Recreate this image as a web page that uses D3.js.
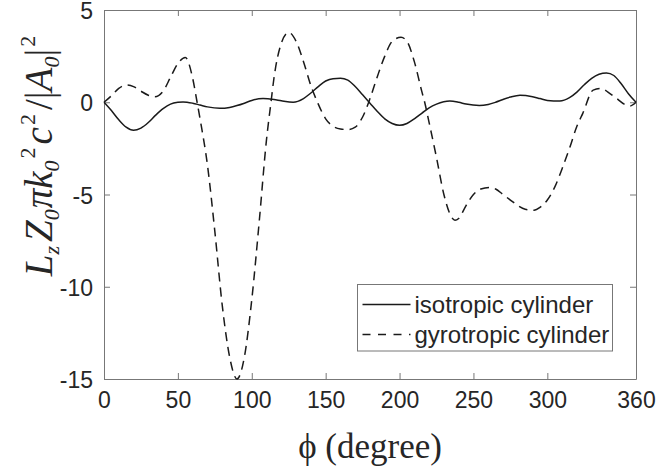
<!DOCTYPE html>
<html>
<head>
<meta charset="utf-8">
<script src="https://cdn.jsdelivr.net/npm/d3@7"></script>
<style>
  html, body { margin: 0; padding: 0; background: #fff; }
  svg { display: block; }
</style>
</head>
<body>
<div id="chart"></div>
<script>
// Angle (degree) and value pairs
const isoAngles = [0, 5, 10, 15, 20, 25, 30, 35, 40, 45, 50, 53.5, 60, 65, 70, 78.5, 85, 90, 95, 100, 107.6,
    115, 120, 128, 135, 140, 145, 150, 155, 160, 165, 170, 175, 180, 185, 190, 195, 200, 205, 210, 215, 220,
    225, 234, 240, 245, 254, 260, 265, 270, 275, 281.5, 290, 295, 300, 308.5, 315, 320, 325, 330, 335, 340,
    345, 350, 355, 360];
const isoValues = [0, -0.45, -0.95, -1.35, -1.52, -1.4, -1.1, -0.7, -0.35, -0.1, 0.0, 0.02, -0.05, -0.15, -0.25, -0.33, -0.28, -0.18, -0.05, 0.1, 0.2,
    0.15, 0.08, 0.0, 0.2, 0.5, 0.85, 1.15, 1.28, 1.3, 1.2, 0.85, 0.4, -0.05, -0.5, -0.9, -1.15, -1.25, -1.15, -0.9, -0.6, -0.3,
    -0.1, 0.07, 0.0, -0.1, -0.18, -0.12, 0.0, 0.15, 0.28, 0.38, 0.3, 0.2, 0.1, 0.07, 0.25, 0.55, 0.95, 1.3, 1.52, 1.59,
    1.45, 1.0, 0.45, 0];

const gyroAngles = [0, 5, 10, 15, 20, 25, 30, 34.5, 40, 45, 50, 55, 60, 63, 65, 70, 75, 80, 85, 90, 95, 100, 105,
    110, 113, 115, 120, 125, 130, 135, 140, 145, 150, 155, 160, 165, 170, 175, 180, 185, 190, 195, 201, 205, 210,
    215, 217, 220, 225, 230, 235, 237.5, 240, 245, 250, 255, 261, 265, 270, 275, 280, 285, 291, 295, 300, 305,
    310, 315, 320, 324, 331, 336.7, 341, 347, 352, 356, 360];
const gyroValues = [0, 0.35, 0.75, 0.94, 0.85, 0.6, 0.38, 0.3, 0.6, 1.35, 2.1, 2.43, 1.3, 0, -0.9, -3.4, -7.0, -11.0, -13.8, -15.0, -13.8, -10.7, -6.5,
    -2.0, 0, 1.3, 3.2, 3.78, 3.3, 2.2, 0.9, -0.1, -0.9, -1.3, -1.45, -1.48, -1.35, -0.8, 0.2, 1.4, 2.5, 3.3, 3.52, 3.3, 2.2,
    0.6, 0, -1.1, -3.0, -5.0, -6.2, -6.4, -6.3, -5.6, -5.0, -4.7, -4.62, -4.7, -5.0, -5.3, -5.6, -5.8, -5.85, -5.7, -5.3, -4.6,
    -3.6, -2.5, -1.3, -0.6, 0.66, 0.75, 0.55, 0.2, -0.1, -0.2, 0];

const xTicks = [0, 50, 100, 150, 200, 250, 300, 360];
const yTicks = [-15, -10, -5, 0, 5];
const seriesNames = ['isotropic cylinder', 'gyrotropic cylinder'];

const W = 659, H = 476;
const margin = { top: 10, right: 23, bottom: 97, left: 104 };
const width = W - margin.left - margin.right;
const height = H - margin.top - margin.bottom;

const svg = d3.select('#chart').append('svg')
    .attr('width', W)
    .attr('height', H);

const g = svg.append('g')
    .attr('transform', `translate(${margin.left},${margin.top})`);

// Scales
const x = d3.scaleLinear().domain([0, 360]).range([0, width]);
const y = d3.scaleLinear().domain([-15, 5]).range([height, 0]);

const tickFont = '"Liberation Sans", Arial, sans-serif';
const axisColor = '#777';
const textColor = '#262626';
const fmt = d => String(d); // plain hyphen minus, as in the reference

// Axes: ticks point inward, box on all four sides
const xAxis = d3.axisBottom(x).tickValues(xTicks).tickFormat(fmt).tickSizeInner(-6).tickSizeOuter(0).tickPadding(13);
const yAxis = d3.axisLeft(y).tickValues(yTicks).tickFormat(fmt).tickSizeInner(-6).tickSizeOuter(0).tickPadding(11);
const xTop = d3.axisTop(x).tickValues(xTicks).tickSizeInner(-6).tickSizeOuter(0).tickFormat('');
const yRight = d3.axisRight(y).tickValues(yTicks).tickSizeInner(-6).tickSizeOuter(0).tickFormat('');

const gx = g.append('g').attr('transform', `translate(0,${height})`).call(xAxis);
const gy = g.append('g').call(yAxis);
const gt = g.append('g').call(xTop);
const gr = g.append('g').attr('transform', `translate(${width},0)`).call(yRight);

[gx, gy, gt, gr].forEach(a => {
    a.selectAll('.domain').attr('stroke', axisColor).attr('stroke-width', 1);
    a.selectAll('.tick line').attr('stroke', axisColor).attr('stroke-width', 1);
    a.selectAll('.tick text')
        .attr('fill', textColor)
        .style('font-family', tickFont)
        .style('font-size', '23px');
});
gy.selectAll('.tick text').attr('dy', '0.37em');

// Lines
const line = d3.line()
    .x(d => x(d[0]))
    .y(d => y(d[1]))
    .curve(d3.curveMonotoneX);

const isoData = isoAngles.map((a, i) => [a, isoValues[i]]);
const gyroData = gyroAngles.map((a, i) => [a, gyroValues[i]]);

g.append('path')
    .datum(isoData)
    .attr('d', line)
    .attr('fill', 'none')
    .attr('stroke', '#1a1a1a')
    .attr('stroke-width', 1.5);

g.append('path')
    .datum(gyroData)
    .attr('d', line)
    .attr('fill', 'none')
    .attr('stroke', '#1a1a1a')
    .attr('stroke-width', 1.5)
    .attr('stroke-dasharray', '9,6');

// Legend
const lg = svg.append('g').attr('transform', 'translate(357.5,284.5)');
lg.append('rect')
    .attr('width', 255).attr('height', 66.5)
    .attr('fill', '#fff').attr('stroke', axisColor).attr('stroke-width', 1);

const dashes = [null, '8,7.5'];
seriesNames.forEach((name, i) => {
    const yy = 20 + i * 30;
    lg.append('line')
        .attr('x1', 5).attr('x2', 53)
        .attr('y1', yy).attr('y2', yy)
        .attr('stroke', '#1a1a1a').attr('stroke-width', 1.5)
        .attr('stroke-dasharray', dashes[i]);
    lg.append('text')
        .attr('x', 57).attr('y', yy + 8)
        .attr('fill', textColor)
        .style('font-family', tickFont)
        .style('font-size', '24px')
        .text(name);
});

// Axis labels
const serif = '"Liberation Serif", "Times New Roman", serif';

svg.append('text')
    .attr('x', margin.left + width / 2)
    .attr('y', 458)
    .attr('text-anchor', 'middle')
    .attr('fill', textColor)
    .style('font-family', serif)
    .style('font-size', '35px')
    .text('\u03d5 (degree)');

const yl = svg.append('text')
    .attr('transform', 'translate(52,156) rotate(-90)')
    .attr('text-anchor', 'middle')
    .attr('fill', textColor)
    .style('font-family', serif)
    .style('font-size', '39px');

const parts = [
    { t: 'L', it: true },
    { t: 'z', it: true, sub: true },
    { t: 'Z', it: true, dx: 4 },
    { t: '0', it: true, sub: true },
    { t: '\u03c0', it: true, dx: 1 },
    { t: 'k', it: true },
    { t: '0', it: true, sub: true },
    { t: '2', sup: true, dx: 2 },
    { t: 'c', it: true, dx: 3 },
    { t: '2', sup: true, dx: 2 },
    { t: '/|', dx: 4 },
    { t: 'A', it: true },
    { t: '0', it: true, sub: true },
    { t: '|' },
    { t: '2', sup: true, dx: 2 }
];
let shift = 0;
parts.forEach(p => {
    const target = p.sub ? 7 : (p.sup ? -17 : 0);
    const ts = yl.append('tspan')
        .attr('dy', target - shift)
        .style('font-style', p.it ? 'italic' : 'normal')
        .style('font-size', (p.sub || p.sup) ? '22px' : '39px')
        .text(p.t);
    if (p.dx) ts.attr('dx', p.dx);
    shift = target;
});
</script>
</body>
</html>
